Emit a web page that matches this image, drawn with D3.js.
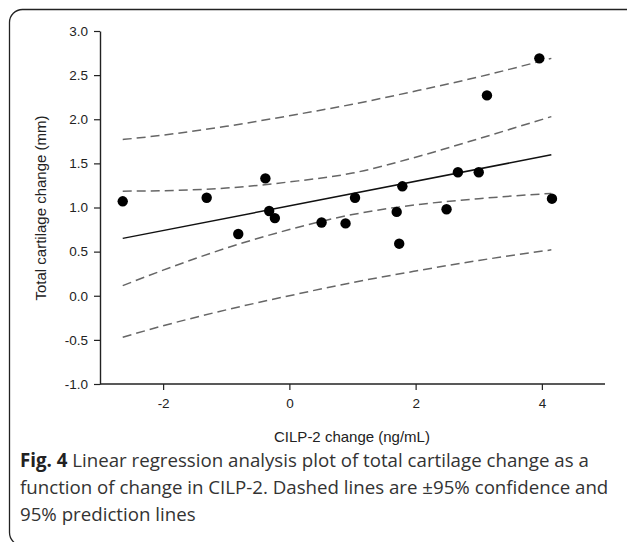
<!DOCTYPE html>
<html>
<head>
<meta charset="utf-8"/>
<script src="https://d3js.org/d3.v7.min.js"></script>
<style>
  body { margin: 0; background: #fff; }
</style>
</head>
<body>
<svg id="chart" width="627" height="542"></svg>
<script>
// scatter points
var pointX = [-2.64, -1.31, -0.81, -0.38, -0.32, -0.23, 0.51, 0.89, 1.04, 1.70, 1.74, 1.79, 2.49, 2.67, 3.00, 3.13, 3.96, 4.16];
var pointY = [1.07, 1.11, 0.70, 1.33, 0.96, 0.88, 0.83, 0.82, 1.11, 0.95, 0.59, 1.24, 0.98, 1.40, 1.40, 2.27, 2.69, 1.10];

// regression line end points
var fitX = [-2.64, 4.15];
var fitY = [0.650, 1.597];

// band positions and values
var bandX = [-2.64, -2, -1, 0, 1, 2, 3, 4.15];
var confUpper = [1.185, 1.19, 1.22, 1.29, 1.39, 1.57, 1.78, 2.03];
var confLower = [0.115, 0.29, 0.54, 0.75, 0.92, 1.03, 1.10, 1.16];
var predUpper = [1.77, 1.82, 1.92, 2.04, 2.17, 2.32, 2.48, 2.69];
var predLower = [-0.47, -0.34, -0.16, 0.0, 0.15, 0.28, 0.40, 0.52];

var xTicks = [-2, 0, 2, 4];
var yTicks = [-1.0, -0.5, 0.0, 0.5, 1.0, 1.5, 2.0, 2.5, 3.0];

var axisFont = "'Liberation Sans', Arial, sans-serif";
var captionFont = "'Open Sans', 'Noto Sans', sans-serif";

var svg = d3.select("svg#chart");

// figure frame
svg.append("rect")
    .attr("x", 9.5).attr("y", 9.5)
    .attr("width", 640).attr("height", 536)
    .attr("rx", 13)
    .style("fill", "none")
    .style("stroke", "#222")
    .style("stroke-width", 1.3);

var xScale = d3.scaleLinear().domain([-3, 5]).range([100, 605]);
var yScale = d3.scaleLinear().domain([-1, 3]).range([384, 31]);

// plain hyphen for negatives, like the original
var fmtX = function(d) { return String(d); };
var fmtY = function(d) { return d3.format(".1f")(d).replace("\u2212", "-"); };

var xAxis = svg.append("g")
    .attr("transform", "translate(0,384)")
    .call(d3.axisBottom(xScale).tickValues(xTicks).tickSize(6).tickSizeOuter(0).tickPadding(8).tickFormat(fmtX));
var yAxis = svg.append("g")
    .attr("transform", "translate(100,0)")
    .call(d3.axisLeft(yScale).tickValues(yTicks).tickSize(6).tickSizeOuter(0).tickPadding(6).tickFormat(fmtY));

[xAxis, yAxis].forEach(function(a) {
    a.select(".domain").style("stroke", "#222").style("stroke-width", 1.4);
    a.selectAll(".tick line").style("stroke", "#222").style("stroke-width", 1.2);
    a.selectAll(".tick text").style("font-size", "13.5px").style("fill", "#222")
        .style("font-family", axisFont);
});
// x-axis line reaches the y-axis
xAxis.select(".domain").attr("d", "M100,0H605");

var line = d3.line()
    .x(function(d) { return xScale(d[0]); })
    .y(function(d) { return yScale(d[1]); })
    .curve(d3.curveMonotoneX);

[confUpper, confLower, predUpper, predLower].forEach(function(band) {
    svg.append("path")
        .datum(bandX.map(function(x, i) { return [x, band[i]]; }))
        .attr("d", line)
        .style("fill", "none")
        .style("stroke", "#666")
        .style("stroke-width", 1.5)
        .style("stroke-dasharray", "9,5");
});

svg.append("path")
    .datum(fitX.map(function(x, i) { return [x, fitY[i]]; }))
    .attr("d", line)
    .style("fill", "none")
    .style("stroke", "#111")
    .style("stroke-width", 1.5);

pointX.forEach(function(x, i) {
    svg.append("circle")
        .attr("r", 5.2)
        .attr("cx", xScale(x))
        .attr("cy", yScale(pointY[i]))
        .style("fill", "#000");
});

// axis titles
svg.append("text")
    .text("CILP-2 change (ng/mL)")
    .attr("x", 352).attr("y", 442)
    .attr("text-anchor", "middle")
    .style("font-family", axisFont)
    .style("font-size", "15px").style("fill", "#222");
svg.append("text")
    .text("Total cartilage change (mm)")
    .attr("transform", "translate(46,208) rotate(-90)")
    .attr("text-anchor", "middle")
    .style("font-family", axisFont)
    .style("font-size", "15px").style("fill", "#222");

// caption
var captionLines = [
    ["Fig. 4", " Linear regression analysis plot of total cartilage change as a"],
    ["", "function of change in CILP-2. Dashed lines are \u00b195% confidence and"],
    ["", "95% prediction lines"]
];
captionLines.forEach(function(c, i) {
    var t = svg.append("text")
        .attr("x", 20).attr("y", 467 + i * 27)
        .style("font-family", captionFont)
        .style("font-size", "18.7px")
        .style("fill", "#333");
    if (c[0]) t.append("tspan").text(c[0]).style("font-weight", "bold").style("fill", "#222");
    t.append("tspan").text(c[1]);
});
</script>
</body>
</html>
